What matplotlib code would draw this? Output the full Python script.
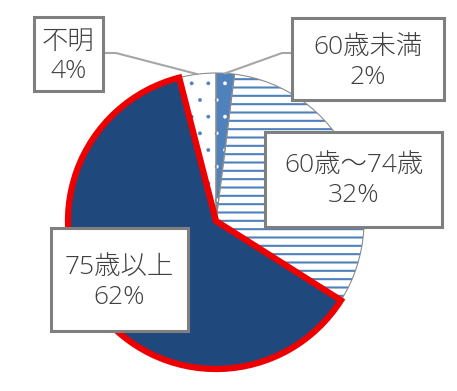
import numpy as np
import matplotlib.pyplot as plt
from matplotlib.patches import Rectangle

plt.rcParams['font.family'] = ['Open Sans', 'Noto Sans CJK JP', 'DejaVu Sans']
plt.rcParams['hatch.linewidth'] = 1.5

# data (clockwise from 12 o'clock)
labels = ['60歳未満', '60歳～74歳', '75歳以上', '不明']
shares = [2, 32, 62, 4]
fills = ['#4f81bd', 'white', '#1f497d', 'white']
hatch_colors = ['white', '#4f81bd', '#1f497d', '#4f81bd']
hatches = ['.', '--', '', '.']

W, H = 457, 391
fig = plt.figure(figsize=(W / 100, H / 100), dpi=100)
ax = fig.add_axes([0, 0, 1, 1])

cx, cy, r = 216, H - 221, 148

# filled + hatched wedges
wedges, _ = ax.pie(shares, colors=fills, startangle=90, counterclock=False,
                   center=(cx, cy), radius=r, frame=True,
                   wedgeprops=dict(linewidth=0))
for w, hc, h in zip(wedges, hatch_colors, hatches):
    w.set_edgecolor(hc)
    w.set_hatch(h)
    if h == '.' and hasattr(w, 'set_hatch_linewidth'):
        w.set_hatch_linewidth(0.3)

# outlines on top
outl, _ = ax.pie(shares, startangle=90, counterclock=False,
                 center=(cx, cy), radius=r, frame=True,
                 wedgeprops=dict(fill=False, edgecolor='#8c8c8c', linewidth=0.8))
outl[2].set_edgecolor('#ee0000')
outl[2].set_linewidth(4.5)
outl[2].set_zorder(5)

ax.set_xlim(0, W)
ax.set_ylim(0, H)
ax.axis('off')

# label boxes (pixel layout, y from top)
boxes = {
    '不明': (34, 17, 103, 91),
    '60歳未満': (292, 18, 444, 100),
    '60歳～74歳': (265, 132, 442, 227),
    '75歳以上': (51, 228, 188, 331),
}
text_y = {
    '不明': (42, 72),
    '60歳未満': (48, 78),
    '60歳～74歳': (165, 195),
    '75歳以上': (267, 297),
}

# leader lines for the two small slices
cum = np.cumsum([0] + shares)
mids = (cum[:-1] + cum[1:]) / 2 / sum(shares) * 2 * np.pi
for i, knee in [(0, (282, 53)), (3, (116, 53))]:
    ex = cx + r * np.sin(mids[i])
    ey = cy + r * np.cos(mids[i])
    b = boxes[labels[i]]
    bx = b[0] if i == 0 else b[2]
    ax.plot([ex, knee[0], bx], [ey, H - knee[1], H - knee[1]],
            color='#a6a6a6', lw=1.5, zorder=6)

for lab, pct in zip(labels, shares):
    x0, y0, x1, y1 = boxes[lab]
    ax.add_patch(Rectangle((x0, H - y1), x1 - x0, y1 - y0, facecolor='white',
                           edgecolor='#7f7f7f', lw=2.2, zorder=7))
    xc = (x0 + x1) / 2
    t1, t2 = text_y[lab]
    ax.text(xc, H - t1, lab, ha='center', va='center', fontsize=19,
            fontweight='light', color='#404040', zorder=8)
    ax.text(xc, H - t2, f'{pct}%', ha='center', va='center', fontsize=19,
            fontweight='light', color='#404040', zorder=8)

fig.savefig('out.png', dpi=100)
